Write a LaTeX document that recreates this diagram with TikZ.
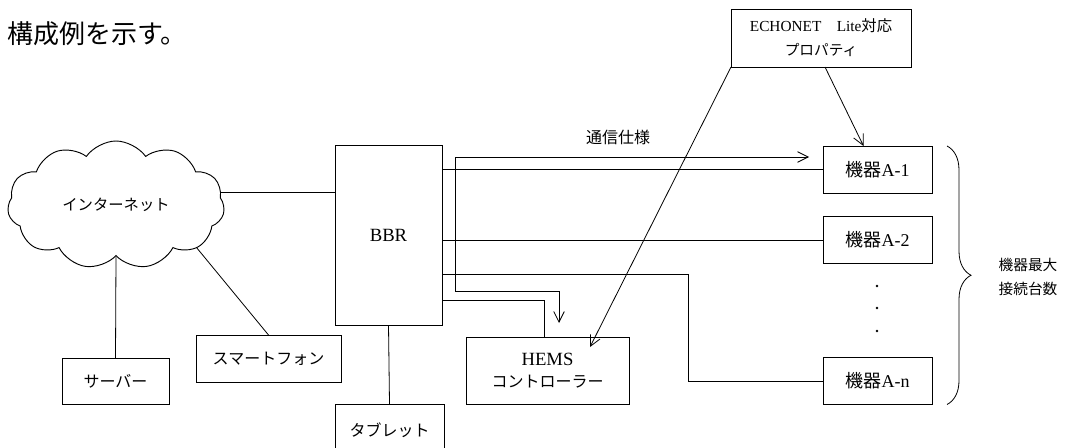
\documentclass[tikz,border=0pt]{standalone}
\usepackage{fontspec}
\setmainfont{Liberation Serif}
\newfontfamily\jp{Noto Sans CJK JP}
\usetikzlibrary{shapes.symbols,arrows.meta,decorations.pathreplacing}

\tikzset{
  box/.style={draw, line width=0.7pt, inner sep=0pt, outer sep=0pt, align=center},
  dev/.style={box, minimum width=81.75pt, minimum height=35.25pt, font=\fontsize{13.5}{16}\selectfont},
  link/.style={line width=0.6pt},
  arr/.style={-{Straight Barb[length=8pt,width=8pt]}},
  dblarr/.style={{Straight Barb[length=8pt,width=8pt]}-{Straight Barb[length=8pt,width=8pt]}},
}

\begin{document}
\begin{tikzpicture}[x=0.75pt, y=-0.75pt]
    \useasboundingbox (0,0) rectangle (1070,447);

    \node[anchor=west, inner sep=0pt, font=\jp\fontsize{19.5}{22}\selectfont] (intro) at (7,34) {構成例を示す。};

    \node[cloud, draw, line width=0.7pt, cloud puffs=11, cloud puff arc=110, aspect=1.9,
          minimum width=162.75pt, minimum height=96pt, inner sep=0pt,
          font=\jp\fontsize{11.5}{14}\selectfont] (net) at (116,205) {インターネット};

    \node[box, minimum width=80.25pt, minimum height=34.5pt, font=\jp\fontsize{12}{14}\selectfont] (srv) at (115.5,381) {サーバー};
    \node[box, minimum width=108.75pt, minimum height=35.25pt, font=\jp\fontsize{12}{14}\selectfont] (smt) at (268.5,358.5) {スマートフォン};
    \node[box, minimum width=80.25pt, minimum height=135pt, font=\fontsize{14}{16}\selectfont] (bbr) at (388.5,235) {BBR};
    \node[box, minimum width=81.75pt, minimum height=39pt, font=\jp\fontsize{12}{14}\selectfont] (tab) at (389.5,430) {タブレット};
    \node[box, minimum width=122.25pt, minimum height=50.25pt, font=\fontsize{14}{16.5}\selectfont] (hems) at (547.5,370.5) {HEMS\\{\jp\fontsize{12}{16.5}\selectfont コントローラー}};
    \node[box, minimum width=135pt, minimum height=43.5pt, font=\fontsize{11.5}{18}\selectfont] (echo) at (821,38) {ECHONET{\jp 　}Lite{\jp 対応}\\{\jp\fontsize{11}{18}\selectfont プロパティ}};

    \node[dev] (a1) at (877.5,169.5) {{\jp 機器}A-1};
    \node[dev] (a2) at (877.5,240) {{\jp 機器}A-2};
    \node[dev] (an) at (877.5,381) {{\jp 機器}A-n};
    \foreach \y in {286,308,331}
        \fill (877,\y) circle (1.1pt);

    \node[inner sep=0pt, align=left, font=\jp\fontsize{11}{18}\selectfont] (maxn) at (1028,277) {機器最大\\接続台数};
    \node[inner sep=0pt, font=\jp\fontsize{12}{14}\selectfont] (spec) at (618,137) {通信仕様};

    \draw[link] (net.7) -- (net.7 -| bbr.west);
    \draw[link] (net.south) -- (srv.north);
    \draw[link] (net.-28) -- (smt.north);
    \draw[link] (bbr.south) -- (tab.north);

    \draw[link] (bbr.east |- a1.west) -- (a1.west);
    \draw[link] (bbr.east |- a2.west) -- (a2.west);
    \draw[link] (bbr.east |- 0,274) -- (688,274) |- (an.west);
    \draw[link] (bbr.east |- 0,300) -| ([xshift=-2.6pt]hems.north);

    \coordinate (specR) at (809,157);
    \coordinate (specD) at (559,323);
    \draw[link, dblarr] (specR) -| (455,291) -| (specD);

    \coordinate (hemsIn) at (590,347);
    \draw[link, arr] (echo.south west) -- (hemsIn);
    \draw[link, arr] ([xshift=3pt]echo.south) -- ([xshift=-10.5pt]a1.north);

    \draw[link, decorate, decoration={brace, amplitude=18pt}] ([xshift=11.25pt]a1.north east) -- ([xshift=11.25pt]an.south east);
\end{tikzpicture}
\end{document}
